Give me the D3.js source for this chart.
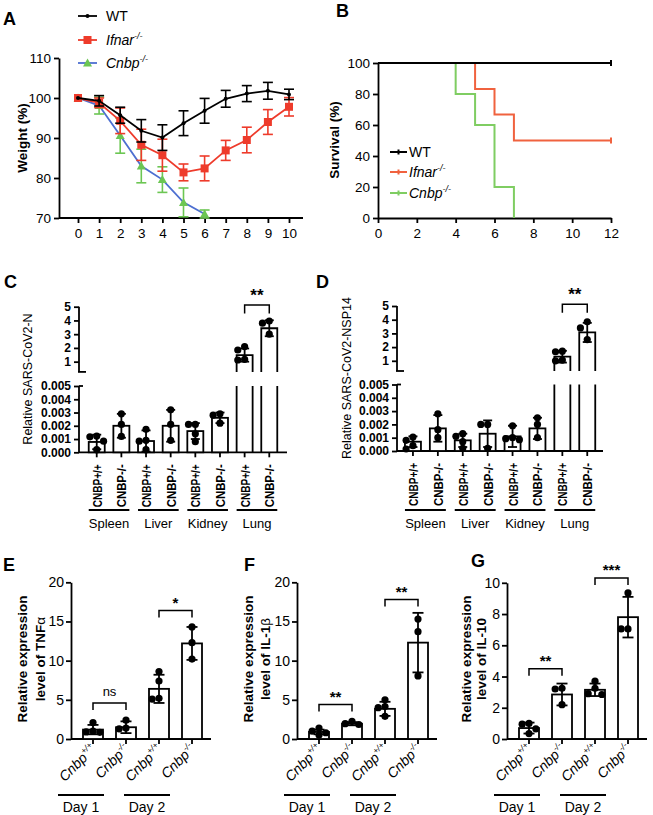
<!DOCTYPE html>
<html><head><meta charset="utf-8">
<script src="https://cdn.jsdelivr.net/npm/d3@7"></script>
<style>
body{margin:0;background:#fff}
svg{display:block}
text{font-family:"Liberation Sans",Arial,Helvetica,sans-serif;fill:#000}
</style>
</head><body>
<svg id="c" width="653" height="815"></svg>
<script>
// ===================== DATA =====================
// Panel A: body weight (%)
const weightDays = [0,1,2,3,4,5,6,7,8,9,10];
const wtWeight = [100,99.3,95.7,91.8,90.1,93.7,96.8,99.8,101.1,101.8,100.9];
const wtWeightSD = [0,1.3,2.0,2.8,3.2,3.1,3.1,2.1,2.0,2.1,1.3];
const ifnarWeight = [100,98.8,94.3,88.3,85.7,81.4,82.4,86.9,89.5,94.0,97.8];
const ifnarWeightSD = [0,1.2,3.2,3.9,4.0,2.1,3.1,2.5,3.2,3.1,2.3];
const cnbpDays = [0,1,2,3,4,5,6];
const cnbpWeight = [100,98.1,90.6,83.0,79.6,73.9,71.0];
const cnbpWeightSD = [0,2.1,4.4,4.2,3.2,3.6,1.0];
const weightYTicks = [70,80,90,100,110];

// Panel B: survival (%)
const survTimeWT = [0,12],          survWT = [100,100];
const survTimeIfnar = [0,5,6,7,12], survIfnar = [100,83.3,66.7,50,50];
const survTimeCnbp = [0,4,5,6,7],   survCnbp = [100,80,60,20,0];
const survXTicks = [0,2,4,6,8,10,12];
const survYTicks = [0,20,40,60,80,100];

// Panels C & D: viral RNA
const genotypeCats = ["CNBP+/+","CNBP-/-","CNBP+/+","CNBP-/-","CNBP+/+","CNBP-/-","CNBP+/+","CNBP-/-"];
const organs = ["Spleen","Liver","Kidney","Lung"];
const upperTicks = [1,2,3,4,5];
const lowerTicks = [0,0.001,0.002,0.003,0.004,0.005];
const nMean = [0.00078,0.0020,0.00085,0.0020,0.0016,0.0026,1.48,3.43];
const nSD   = [0.00055,0.0009,0.0008,0.0012,0.0006,0.0004,0.48,0.58];
const nPoints = [[0.00122,0.00117,0.00084,0.0002],[0.0029,0.0021,0.0012],[0.00173,0.0009,0.00084,0.0002],
  [0.0032,0.0021,0.0009],[0.0021,0.0021,0.0014,0.0008],[0.0029,0.0028,0.0022],[2.1,1.85,1.17,1.12],[3.96,3.8,3.0]];
const nsp14Mean = [0.0007,0.0017,0.0008,0.0013,0.0011,0.0017,1.3,3.07];
const nsp14SD   = [0.0004,0.0010,0.0005,0.0010,0.0008,0.0008,0.43,0.7];
const nsp14Points = [[0.00105,0.0008,0.0004,0.00015],[0.0028,0.0016,0.001],[0.0013,0.0011,0.0007,0.0002],
  [0.002,0.002,0.0002],[0.0019,0.001,0.00093,0.00085],[0.0025,0.002,0.001],[1.7,1.66,1.05,1.0],[3.85,3.4,2.55]];

// Panels E, F, G: cytokines
const cytoCats = ["+/+","-/-","+/+","-/-"];
const days = ["Day 1","Day 2"];
const tnfMean = [1.2,1.5,6.4,12.2];
const tnfSD = [0.6,0.75,1.8,2.1];
const tnfPoints = [[2.1,1.0,0.9,0.85],[2.4,1.4,1.3],[8.6,7.4,5.2,5.1],[14.3,12.3,10.2]];
const il1bMean = [0.9,1.95,3.85,12.3];
const il1bSD = [0.3,0.2,0.9,3.8];
const il1bPoints = [[1.4,1.0,0.8,0.5],[2.25,1.95,1.85],[5.0,4.15,4.0,2.9],[15.3,13.7,8.05]];
const il10Mean = [0.7,2.85,3.15,7.8];
const il10SD = [0.35,0.7,0.4,1.3];
const il10Points = [[1.0,0.95,0.65,0.35],[3.25,3.2,2.2],[3.7,3.25,2.9,2.85],[9.35,7.05,7.05]];
const ticks20 = [0,5,10,15,20];
const ticks10 = [0,2,4,6,8,10];
const tnfSig = [{a:0,b:1,v:4.6,t:"ns"},{a:2,b:3,v:16.4,t:"*"}];
const il1bSig = [{a:0,b:1,v:4.4,t:"**"},{a:2,b:3,v:17.8,t:"**"}];
const il10Sig = [{a:0,b:1,v:4.5,t:"**"},{a:2,b:3,v:10.3,t:"***"}];

// ===================== HELPERS =====================
const svg = d3.select("#c");
const SW = 1.8;
const RED_A = "#ee3b2b", BLUE_A = "#4d6fd1", GREEN_A = "#6cc653";
const RED_B = "#f0623f", GREEN_B = "#7fcd62";

function letter(t,x,y){ svg.append("text").attr("x",x).attr("y",y).attr("font-size",18).attr("font-weight","bold").text(t); }

function styleAxis(g, fs, bold){
  g.selectAll("path,line").attr("stroke","#000").attr("stroke-width",SW);
  g.selectAll("text").attr("font-size",fs).attr("font-weight",bold?"bold":"normal").attr("fill","#000")
    .style("font-family",'"Liberation Sans",Arial,sans-serif');
}

function swarm(vals, yf, r){
  const placed=[];
  const offs=[0,-1,1,-2,2,-3,3];
  return vals.map(v=>{
    const y=yf(v);
    for(const o of offs){
      const dx=o*r*1.9;
      if(placed.every(p=>Math.hypot(p.dx-dx,p.y-y)>=2*r-0.6)){ placed.push({dx,y}); return {dx,y}; }
    }
    placed.push({dx:0,y}); return {dx:0,y};
  });
}

function errBar(g,cx,y1,y2,cap){
  g.append("line").attr("x1",cx).attr("x2",cx).attr("y1",y1).attr("y2",y2).attr("stroke","#000").attr("stroke-width",SW);
  g.append("line").attr("x1",cx-cap).attr("x2",cx+cap).attr("y1",y1).attr("y2",y1).attr("stroke","#000").attr("stroke-width",SW);
  g.append("line").attr("x1",cx-cap).attr("x2",cx+cap).attr("y1",y2).attr("y2",y2).attr("stroke","#000").attr("stroke-width",SW);
}

// ===================== PANEL A =====================
(function(){
  letter("A",3,25);
  const x=d3.scaleLinear([0,10],[78,289]);
  const y=d3.scaleLinear([70,110],[218,58]);
  const g=svg.append("g");
  const ya=g.append("g").attr("transform","translate(59,0)")
    .call(d3.axisLeft(y).tickValues(weightYTicks).tickSize(5).tickSizeOuter(0).tickPadding(3));
  styleAxis(ya,13.5,false);
  const xa=g.append("g").attr("transform","translate(0,218)")
    .call(d3.axisBottom(x).tickValues(weightDays).tickSize(5).tickSizeOuter(0).tickPadding(5));
  xa.select(".domain").remove();
  styleAxis(xa,13.5,false);
  g.append("line").attr("x1",59).attr("x2",303).attr("y1",218).attr("y2",218).attr("stroke","#000").attr("stroke-width",SW);
  g.append("text").attr("transform","translate(27,138) rotate(-90)").attr("text-anchor","middle")
    .attr("font-size",13.5).attr("font-weight","bold").text("Weight (%)");

  function series(dx,m,sd,lineCol,errCol,marker){
    const line=d3.line().x((d,i)=>x(dx[i])).y(d=>y(d));
    g.append("path").attr("d",line(m)).attr("fill","none").attr("stroke",lineCol).attr("stroke-width",1.8);
    m.forEach((v,i)=>{
      if(sd[i]>0){
        const cx=x(dx[i]);
        const lo=v-sd[i], hi=v+sd[i];
        g.append("line").attr("x1",cx).attr("x2",cx).attr("y1",y(Math.max(lo,70))).attr("y2",y(hi)).attr("stroke",errCol).attr("stroke-width",1.6);
        g.append("line").attr("x1",cx-5).attr("x2",cx+5).attr("y1",y(hi)).attr("y2",y(hi)).attr("stroke",errCol).attr("stroke-width",1.6);
        if(lo>=70) g.append("line").attr("x1",cx-5).attr("x2",cx+5).attr("y1",y(lo)).attr("y2",y(lo)).attr("stroke",errCol).attr("stroke-width",1.6);
      }
    });
    m.forEach((v,i)=>marker(g,x(dx[i]),y(v)));
  }
  const dot=(gg,cx,cy)=>gg.append("circle").attr("cx",cx).attr("cy",cy).attr("r",2).attr("fill","#000");
  const sq=(gg,cx,cy)=>gg.append("rect").attr("x",cx-4).attr("y",cy-4).attr("width",8).attr("height",8).attr("fill",RED_A);
  const tri=(gg,cx,cy)=>gg.append("path").attr("d",`M${cx},${cy-4.5}L${cx+4.5},${cy+3.5}L${cx-4.5},${cy+3.5}Z`).attr("fill",GREEN_A);
  series(cnbpDays,cnbpWeight,cnbpWeightSD,BLUE_A,GREEN_A,tri);
  series(weightDays,ifnarWeight,ifnarWeightSD,RED_A,RED_A,sq);
  series(weightDays,wtWeight,wtWeightSD,"#000","#000",dot);

  const leg=[{y:16,c:"#000",m:dot,n:"WT",it:false},{y:40,c:RED_A,m:sq,n:"Ifnar",it:true},{y:63,c:BLUE_A,m:tri,n:"Cnbp",it:true}];
  leg.forEach(l=>{
    g.append("line").attr("x1",78).attr("x2",97).attr("y1",l.y).attr("y2",l.y).attr("stroke",l.c).attr("stroke-width",1.8);
    l.m(g,87.5,l.y);
    const t=g.append("text").attr("x",106).attr("y",l.y+5).attr("font-size",14);
    if(l.it){ t.append("tspan").attr("font-style","italic").text(l.n);
      t.append("tspan").attr("font-style","italic").attr("font-size",9).attr("dy",-6).text("-/-"); }
    else t.text(l.n);
  });
})();

// ===================== PANEL B =====================
(function(){
  letter("B",336,17);
  const x=d3.scaleLinear([0,12],[378,611]);
  const y=d3.scaleLinear([0,100],[218,63]);
  const g=svg.append("g");
  const ya=g.append("g").attr("transform","translate(378,0)")
    .call(d3.axisLeft(y).tickValues(survYTicks).tickSize(5).tickSizeOuter(0).tickPadding(3));
  styleAxis(ya,13.5,false);
  const xa=g.append("g").attr("transform","translate(0,218)")
    .call(d3.axisBottom(x).tickValues(survXTicks).tickSize(5).tickSizeOuter(0).tickPadding(5));
  styleAxis(xa,13.5,false);
  g.append("text").attr("transform","translate(339,140) rotate(-90)").attr("text-anchor","middle")
    .attr("font-size",13.5).attr("font-weight","bold").text("Survival (%)");
  const line=d3.line().curve(d3.curveStepAfter).x(d=>x(d[0])).y(d=>y(d[1]));
  const draw=(t,v,c)=>g.append("path").attr("d",line(t.map((d,i)=>[d,v[i]]))).attr("fill","none").attr("stroke",c).attr("stroke-width",2);
  draw(survTimeCnbp,survCnbp,GREEN_B);
  draw(survTimeIfnar,survIfnar,RED_B);
  draw(survTimeWT,survWT,"#000");
  [[12,100,"#000"],[12,50,RED_B]].forEach(([t,v,c])=>g.append("line").attr("x1",x(t)).attr("x2",x(t)).attr("y1",y(v)-3).attr("y2",y(v)+3).attr("stroke",c).attr("stroke-width",2));
  const leg=[{y:152,c:"#000",n:"WT",it:false},{y:172,c:RED_B,n:"Ifnar",it:true},{y:193,c:GREEN_B,n:"Cnbp",it:true}];
  leg.forEach(l=>{
    g.append("line").attr("x1",390).attr("x2",407).attr("y1",l.y).attr("y2",l.y).attr("stroke",l.c).attr("stroke-width",2);
    g.append("line").attr("x1",398.5).attr("x2",398.5).attr("y1",l.y-2.5).attr("y2",l.y+2.5).attr("stroke",l.c).attr("stroke-width",2);
    const t=g.append("text").attr("x",409).attr("y",l.y+5).attr("font-size",14);
    if(l.it){ t.append("tspan").attr("font-style","italic").text(l.n);
      t.append("tspan").attr("font-style","italic").attr("font-size",9).attr("dy",-6).text("-/-"); }
    else t.text(l.n);
  });
})();

// ===================== PANELS C & D =====================
function brokenPanel(o){
  letter(o.letter,o.lx,288);
  const g=svg.append("g");
  const ax=o.ax;
  const yUp=d3.scaleLinear([0,5],[o.up0,o.up5]);
  const yLo=d3.scaleLinear([0,0.005],[o.lo0,o.lo5]);
  const upBottom=o.up0-3.5;
  const xb=d3.scaleBand().domain(d3.range(8)).range([o.bandStart,o.bandStart+8*o.step]);
  const cxf=i=>xb(i)+xb.bandwidth()/2;
  const ua=g.append("g").attr("transform",`translate(${ax},0)`)
    .call(d3.axisLeft(yUp).tickValues(upperTicks).tickSize(5).tickSizeOuter(0).tickPadding(3).tickFormat(d3.format("d")));
  ua.select(".domain").remove();
  styleAxis(ua,12,true);
  g.append("line").attr("x1",ax).attr("x2",ax).attr("y1",yUp(5)).attr("y2",upBottom).attr("stroke","#000").attr("stroke-width",SW);
  g.append("line").attr("x1",ax-1).attr("x2",ax+7).attr("y1",upBottom).attr("y2",upBottom).attr("stroke","#000").attr("stroke-width",SW);
  const la=g.append("g").attr("transform",`translate(${ax},0)`)
    .call(d3.axisLeft(yLo).tickValues(lowerTicks).tickSize(5).tickSizeOuter(0).tickPadding(3).tickFormat(d3.format(".3f")));
  la.select(".domain").remove();
  styleAxis(la,12,true);
  g.append("line").attr("x1",ax).attr("x2",ax).attr("y1",yLo(0.005)).attr("y2",yLo(0)).attr("stroke","#000").attr("stroke-width",SW);
  g.append("line").attr("x1",ax).attr("x2",ax+4).attr("y1",yLo(0.005)).attr("y2",yLo(0.005)).attr("stroke","#000").attr("stroke-width",SW);
  g.append("line").attr("x1",ax).attr("x2",o.axEnd).attr("y1",yLo(0)).attr("y2",yLo(0)).attr("stroke","#000").attr("stroke-width",SW);
  const bw=16;
  o.mean.forEach((m,i)=>{
    const cx=cxf(i);
    g.append("line").attr("x1",cx).attr("x2",cx).attr("y1",yLo(0)).attr("y2",yLo(0)+5).attr("stroke","#000").attr("stroke-width",SW);
    const l=cx-bw/2, r=cx+bw/2;
    let ys;
    if(m>0.005){
      ys=yUp;
      g.append("path").attr("d",`M${l},${yLo(0)}V${yLo(0.005)}M${r},${yLo(0)}V${yLo(0.005)}`).attr("stroke","#000").attr("stroke-width",SW).attr("fill","none");
      g.append("path").attr("d",`M${l},${upBottom}V${yUp(m)}H${r}V${upBottom}`).attr("stroke","#000").attr("stroke-width",SW).attr("fill","#fff");
    } else {
      ys=yLo;
      g.append("rect").attr("x",l).attr("y",yLo(m)).attr("width",bw).attr("height",yLo(0)-yLo(m)).attr("fill","#fff").attr("stroke","#000").attr("stroke-width",SW);
    }
    const lo=Math.max(m-o.sd[i],0);
    errBar(g,cx,ys(lo),ys(m+o.sd[i]),4.5);
    swarm(o.pts[i],ys,3.6).forEach(p=>g.append("circle").attr("cx",cx+p.dx).attr("cy",p.y).attr("r",3.6).attr("fill","#000"));
    g.append("text").attr("transform",`translate(${cx+5},${yLo(0)+12}) rotate(-90)`).attr("text-anchor","end")
      .attr("font-size",13).attr("font-weight","bold").attr("textLength",43).attr("lengthAdjust","spacingAndGlyphs").text(genotypeCats[i]);
  });
  organs.forEach((name,k)=>{
    const x1=cxf(2*k)-8, x2=cxf(2*k+1)+8;
    g.append("line").attr("x1",x1).attr("x2",x2).attr("y1",510).attr("y2",510).attr("stroke","#000").attr("stroke-width",SW);
    g.append("text").attr("x",(x1+x2)/2).attr("y",528).attr("text-anchor","middle").attr("font-size",13).text(name);
  });
  const a=cxf(6), b=cxf(7), yb=yUp(5.12), yl=yUp(4.5);
  g.append("path").attr("d",`M${a},${yl}V${yb}H${b}V${yl}`).attr("fill","none").attr("stroke","#000").attr("stroke-width",1.5);
  g.append("text").attr("x",(a+b)/2).attr("y",yb-4).attr("text-anchor","middle").attr("font-size",17).attr("font-weight","bold").text("**");
  g.append("text").attr("transform",`translate(${o.titleX},${o.titleY}) rotate(-90)`).attr("text-anchor","middle")
    .attr("font-size",12.5).text(o.title);
}
brokenPanel({letter:"C",lx:4,ax:79,axEnd:287,up0:375.4,up5:306.7,lo0:452.3,lo5:386,bandStart:84.4,step:24.65,
  mean:nMean,sd:nSD,pts:nPoints,title:"Relative SARS-CoV2-N",titleX:32,titleY:379});
brokenPanel({letter:"D",lx:316,ax:397,axEnd:603,up0:374.5,up5:306,lo0:451,lo5:384.5,bandStart:400.5,step:24.9,
  mean:nsp14Mean,sd:nsp14SD,pts:nsp14Points,title:"Relative SARS-CoV2-NSP14",titleX:351,titleY:378});

// ===================== PANELS E, F, G =====================
function cytoPanel(o){
  letter(o.letter,o.lx,o.ly);
  const g=svg.append("g");
  const ax=o.ax;
  const y=d3.scaleLinear([0,o.max],[739,o.top]);
  const xb=d3.scaleBand().domain(d3.range(4)).range([ax+5.5,ax+5.5+4*33]);
  const cxf=i=>xb(i)+xb.bandwidth()/2;
  const ya=g.append("g").attr("transform",`translate(${ax},0)`)
    .call(d3.axisLeft(y).tickValues(o.ticks).tickSize(5).tickSizeOuter(0).tickPadding(2));
  styleAxis(ya,14,false);
  g.append("line").attr("x1",ax).attr("x2",ax+140).attr("y1",739).attr("y2",739).attr("stroke","#000").attr("stroke-width",SW);
  const bw=20;
  o.mean.forEach((m,i)=>{
    const cx=cxf(i);
    g.append("line").attr("x1",cx).attr("x2",cx).attr("y1",739).attr("y2",744).attr("stroke","#000").attr("stroke-width",SW);
    g.append("rect").attr("x",cx-bw/2).attr("y",y(m)).attr("width",bw).attr("height",739-y(m)).attr("fill","#fff").attr("stroke","#000").attr("stroke-width",SW);
    errBar(g,cx,y(Math.max(m-o.sd[i],0)),y(m+o.sd[i]),5.5);
    swarm(o.pts[i],y,3.6).forEach(p=>g.append("circle").attr("cx",cx+p.dx).attr("cy",p.y).attr("r",3.6).attr("fill","#000"));
    const t=g.append("text").attr("transform",`translate(${cx+4},${750}) rotate(-45)`).attr("text-anchor","end").attr("font-size",14).attr("font-style","italic");
    t.append("tspan").text("Cnbp");
    t.append("tspan").attr("font-size",8.5).attr("dy",-6).text(cytoCats[i]);
  });
  days.forEach((d,k)=>{
    const x1=cxf(2*k)-35, x2=cxf(2*k+1)-22;
    g.append("line").attr("x1",x1).attr("x2",x2).attr("y1",795).attr("y2",795).attr("stroke","#000").attr("stroke-width",SW);
    g.append("text").attr("x",(x1+x2)/2).attr("y",812).attr("text-anchor","middle").attr("font-size",14).text(d);
  });
  o.sig.forEach(s=>{
    const a=cxf(s.a), b=cxf(s.b), yb=y(s.v), yl=yb+7;
    g.append("path").attr("d",`M${a},${yl}V${yb}H${b}V${yl}`).attr("fill","none").attr("stroke","#000").attr("stroke-width",1.5);
    const ns=s.t==="ns";
    g.append("text").attr("x",(a+b)/2).attr("y",ns?yb-7:yb-3).attr("text-anchor","middle")
      .attr("font-size",ns?13:15).attr("font-weight",ns?"normal":"bold").text(s.t);
  });
  const tt=g.append("g").attr("font-weight","bold").attr("font-size",13.5);
  tt.append("text").attr("transform",`translate(${ax+o.t1},659) rotate(-90)`).attr("text-anchor","middle").text("Relative expression");
  const t2=tt.append("text").attr("transform",`translate(${ax+o.t2},659) rotate(-90)`).attr("text-anchor","middle");
  t2.append("tspan").text(o.title2);
  t2.append("tspan").attr("font-weight","normal").text(o.greek);
}
cytoPanel({letter:"E",lx:3,ly:571,ax:71,max:20,top:582.3,ticks:ticks20,mean:tnfMean,sd:tnfSD,pts:tnfPoints,sig:tnfSig,
  title2:"level of TNF",greek:"α",t1:-44,t2:-26});
cytoPanel({letter:"F",lx:244,ly:571,ax:297,max:20,top:582.3,ticks:ticks20,mean:il1bMean,sd:il1bSD,pts:il1bPoints,sig:il1bSig,
  title2:"level of IL-1",greek:"β",t1:-44,t2:-27});
cytoPanel({letter:"G",lx:471,ly:567,ax:507,max:10,top:582.8,ticks:ticks10,mean:il10Mean,sd:il10SD,pts:il10Points,sig:il10Sig,
  title2:"level of IL-10",greek:"",t1:-36,t2:-21});
</script>
</body></html>
